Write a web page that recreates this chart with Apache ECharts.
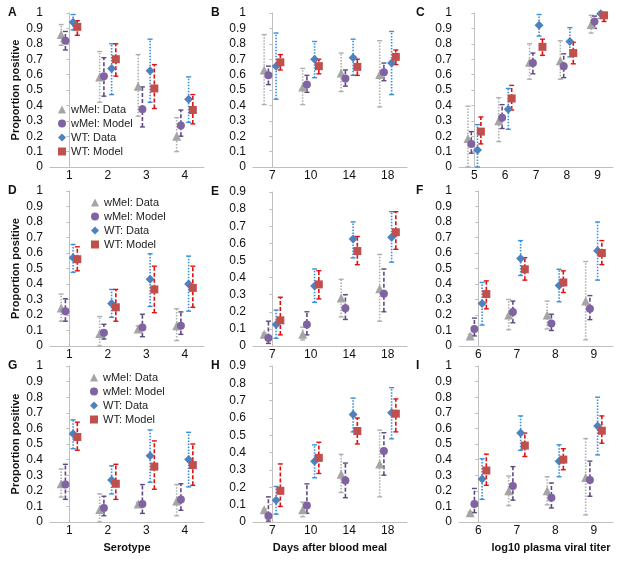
<!DOCTYPE html>
<html><head><meta charset="utf-8">
<script src="https://cdn.jsdelivr.net/npm/echarts@6/dist/echarts.min.js"></script>
<style>html,body{margin:0;padding:0;background:#fff}#c{width:622px;height:561px}</style>
</head><body><div id="c"></div>
<script>
// Series names (legend)
const seriesNames = ['wMel: Data', 'wMel: Model', 'WT: Data', 'WT: Model'];

// Category labels
const catsSerotype = ['1', '2', '3', '4'];
const catsDays = ['7', '10', '14', '18'];
const catsTiterC = ['5', '6', '7', '8', '9'];
const catsTiter = ['6', '7', '8', '9'];

// Each entry: [estimate, lower, upper]
const A_wMelData  = [[0.86,0.79,0.925],[0.585,0.42,0.75],[0.525,0.33,0.73],[0.20,0.10,0.32]];
const A_wMelModel = [[0.82,0.76,0.88],[0.59,0.46,0.71],[0.375,0.26,0.52],[0.27,0.20,0.37]];
const A_WTData    = [[0.94,0.89,0.99],[0.64,0.47,0.80],[0.625,0.42,0.83],[0.44,0.29,0.585]];
const A_WTModel   = [[0.91,0.855,0.95],[0.70,0.59,0.80],[0.51,0.38,0.665],[0.37,0.28,0.47]];

const B_wMelData  = [[0.63,0.405,0.86],[0.52,0.405,0.64],[0.61,0.49,0.74],[0.60,0.39,0.82]];
const B_wMelModel = [[0.595,0.535,0.655],[0.535,0.485,0.595],[0.575,0.525,0.63],[0.615,0.56,0.675]];
const B_WTData    = [[0.655,0.44,0.87],[0.70,0.58,0.815],[0.71,0.595,0.83],[0.675,0.47,0.88]];
const B_WTModel   = [[0.68,0.63,0.73],[0.655,0.605,0.70],[0.65,0.595,0.70],[0.715,0.665,0.76]];

const C_wMelData  = [[0.185,0,0.395],[0.30,0.165,0.45],[0.68,0.57,0.80],[0.69,0.57,0.82],[0.925,0.87,0.985]];
const C_wMelModel = [[0.15,0.09,0.23],[0.32,0.25,0.405],[0.675,0.605,0.74],[0.655,0.58,0.735],[0.945,0.90,0.98]];
const C_WTData    = [[0.11,0,0.275],[0.375,0.245,0.51],[0.92,0.85,0.99],[0.815,0.715,0.905],[0.995,0.965,1.0]];
const C_WTModel   = [[0.23,0.15,0.325],[0.445,0.37,0.53],[0.78,0.725,0.83],[0.74,0.67,0.81],[0.985,0.945,1.0]];

const D_wMelData  = [[0.245,0.16,0.335],[0.08,0,0.19],[0.11,0.10,0.13],[0.13,0.035,0.24]];
const D_wMelModel = [[0.225,0.16,0.305],[0.085,0.045,0.14],[0.12,0.06,0.205],[0.13,0.075,0.22]];
const D_WTData    = [[0.57,0.475,0.655],[0.275,0.185,0.365],[0.43,0.255,0.595],[0.40,0.225,0.58]];
const D_WTModel   = [[0.56,0.485,0.64],[0.25,0.16,0.365],[0.365,0.215,0.515],[0.375,0.25,0.515]];

const E_wMelData  = [[0.068,0.06,0.075],[0.068,0.035,0.11],[0.28,0.17,0.39],[0.335,0.145,0.535]];
const E_wMelModel = [[0.047,0.015,0.145],[0.125,0.065,0.20],[0.22,0.155,0.30],[0.305,0.20,0.45]];
const E_WTData    = [[0.125,0.045,0.21],[0.35,0.255,0.45],[0.625,0.515,0.725],[0.635,0.49,0.785]];
const E_WTModel   = [[0.15,0.065,0.285],[0.36,0.275,0.44],[0.555,0.475,0.64],[0.665,0.565,0.785]];

const F_wMelData  = [[0.065,0.06,0.075],[0.20,0.105,0.30],[0.20,0.11,0.29],[0.29,0.04,0.545]];
const F_wMelModel = [[0.11,0.065,0.18],[0.22,0.15,0.29],[0.145,0.10,0.205],[0.24,0.17,0.325]];
const F_WTData    = [[0.275,0.135,0.41],[0.565,0.455,0.68],[0.39,0.285,0.495],[0.615,0.425,0.80]];
const F_WTModel   = [[0.335,0.24,0.42],[0.495,0.425,0.57],[0.41,0.345,0.485],[0.60,0.525,0.68]];

const G_wMelData  = [[0.245,0.16,0.34],[0.08,0,0.18],[0.115,0.10,0.125],[0.135,0.04,0.24]];
const G_wMelModel = [[0.24,0.145,0.37],[0.09,0.04,0.165],[0.115,0.055,0.24],[0.145,0.075,0.245]];
const G_WTData    = [[0.565,0.47,0.655],[0.27,0.18,0.36],[0.425,0.255,0.59],[0.40,0.225,0.575]];
const G_WTModel   = [[0.545,0.46,0.64],[0.245,0.145,0.37],[0.355,0.21,0.52],[0.365,0.235,0.50]];

const H_wMelData  = [[0.07,0.065,0.075],[0.07,0.03,0.115],[0.275,0.17,0.39],[0.335,0.145,0.53]];
const H_wMelModel = [[0.035,0.005,0.145],[0.095,0.05,0.22],[0.24,0.14,0.34],[0.41,0.27,0.515]];
const H_WTData    = [[0.125,0.045,0.205],[0.35,0.255,0.445],[0.62,0.52,0.715],[0.63,0.48,0.775]];
const H_WTModel   = [[0.18,0.09,0.335],[0.37,0.28,0.46],[0.525,0.45,0.60],[0.625,0.52,0.71]];

const I_wMelData  = [[0.06,0.055,0.065],[0.20,0.105,0.295],[0.20,0.11,0.29],[0.285,0.045,0.535]];
const I_wMelModel = [[0.115,0.06,0.215],[0.23,0.14,0.355],[0.155,0.09,0.25],[0.27,0.165,0.39]];
const I_WTData    = [[0.275,0.145,0.405],[0.57,0.46,0.68],[0.39,0.29,0.495],[0.615,0.43,0.80]];
const I_WTModel   = [[0.33,0.235,0.435],[0.49,0.42,0.57],[0.40,0.335,0.47],[0.585,0.505,0.68]];

// Axis ranges
const yMaxFull = 1;
const yMaxShort = 0.9;

// Axis titles
const yTitle = 'Proportion positive';
const xTitles = ['Serotype', 'Days after blood meal', 'log10 plasma viral titer'];

// ---------- layout / style ----------
const FONT = '"Liberation Sans", Arial, sans-serif';
const panels = [
  {id:'A', cats:catsSerotype, max:yMaxFull, data:[A_wMelData,A_wMelModel,A_WTData,A_WTModel], left:50, top:13, h:154, col:0, row:0},
  {id:'B', cats:catsDays, max:yMaxFull, data:[B_wMelData,B_wMelModel,B_WTData,B_WTModel], left:253, top:13, h:154, col:1, row:0},
  {id:'C', cats:catsTiterC, max:yMaxFull, data:[C_wMelData,C_wMelModel,C_WTData,C_WTModel], left:459, top:13, h:154, col:2, row:0},
  {id:'D', cats:catsSerotype, max:yMaxFull, data:[D_wMelData,D_wMelModel,D_WTData,D_WTModel], left:50, top:191, h:155, col:0, row:1},
  {id:'E', cats:catsDays, max:yMaxShort, data:[E_wMelData,E_wMelModel,E_WTData,E_WTModel], left:253, top:192, h:154, col:1, row:1},
  {id:'F', cats:catsTiter, max:yMaxFull, data:[F_wMelData,F_wMelModel,F_WTData,F_WTModel], left:459, top:191, h:155, col:2, row:1},
  {id:'G', cats:catsSerotype, max:yMaxFull, data:[G_wMelData,G_wMelModel,G_WTData,G_WTModel], left:50, top:366, h:156, col:0, row:2},
  {id:'H', cats:catsDays, max:yMaxShort, data:[H_wMelData,H_wMelModel,H_WTData,H_WTModel], left:253, top:366, h:156, col:1, row:2},
  {id:'I', cats:catsTiter, max:yMaxFull, data:[I_wMelData,I_wMelModel,I_WTData,I_WTModel], left:459, top:366, h:156, col:2, row:2}
];
const W = 154;
const offsets = [-0.21, -0.1, 0.1, 0.21];
const markers = [
  {symbol:'triangle', size:9, color:'#a5a5a5'},
  {symbol:'circle', size:8, color:'#8064a2'},
  {symbol:'diamond', size:9, color:'#4f81bd'},
  {symbol:'rect', size:8, color:'#c0504d'}
];
const bars = [
  {color:'#b0b0b0', dash:[1.5,1.5]},
  {color:'#5f4a80', dash:[4,2]},
  {color:'#3a8fd9', dash:[1.5,1.5]},
  {color:'#e01010', dash:[4,2]}
];
const AXC = '#bfbfbf';

const grid = [], xAxis = [], yAxis = [], series = [], graphic = [];
panels.forEach((p, i) => {
  grid.push({left:p.left, top:p.top, width:W, height:p.h});
  const catAxis = {
    type:'category', gridIndex:i, data:p.cats, boundaryGap:true,
    axisLine:{lineStyle:{color:AXC}}, axisTick:{length:5, lineStyle:{color:AXC}},
    axisLabel:{color:'#111', fontSize:12, fontFamily:FONT, margin:3}
  };
  if (p.row === 2) {
    catAxis.name = xTitles[p.col];
    catAxis.nameLocation = 'middle';
    catAxis.nameGap = 20;
    catAxis.nameTextStyle = {fontWeight:'bold', fontSize:11, color:'#111', fontFamily:FONT,
      padding: p.col === 2 ? [0,0,0,30] : 0};
  }
  xAxis.push(catAxis);
  xAxis.push({type:'value', gridIndex:i, min:-0.5, max:p.cats.length-0.5, show:false});
  const ya = {
    type:'value', gridIndex:i, min:0, max:p.max, interval:0.1,
    axisLine:{show:true, lineStyle:{color:AXC}}, axisTick:{show:true, length:3, lineStyle:{color:AXC}},
    splitLine:{show:false},
    axisLabel:{color:'#111', fontSize:12, fontFamily:FONT, margin:7,
      formatter: v => String(Math.round(v*10)/10)}
  };
  if (p.col === 0) {
    ya.name = yTitle; ya.nameLocation = 'middle'; ya.nameGap = 29;
    ya.nameTextStyle = {fontWeight:'bold', fontSize:11, color:'#111', fontFamily:FONT};
  }
  yAxis.push(ya);
  p.data.forEach((arr, s) => {
    const pts = arr.map((d, k) => [k + offsets[s], d[0], d[1], d[2]]);
    const b = bars[s];
    series.push({
      type:'custom', name:'err'+s, xAxisIndex:2*i+1, yAxisIndex:i, z:2, silent:true,
      data: pts.map(q => [q[0], q[2], q[3]]),
      encode:{x:0, y:[1,2]},
      renderItem:(params, api) => {
        const x = api.value(0);
        const lo = api.coord([x, api.value(1)]);
        const hi = api.coord([x, api.value(2)]);
        const cap = 2.5;
        return {type:'group', children:[
          {type:'line', shape:{x1:lo[0], y1:lo[1], x2:hi[0], y2:hi[1]}, style:{stroke:b.color, lineWidth:1.6, lineDash:b.dash}},
          {type:'line', shape:{x1:hi[0]-cap, y1:hi[1], x2:hi[0]+cap, y2:hi[1]}, style:{stroke:b.color, lineWidth:1.4}},
          {type:'line', shape:{x1:lo[0]-cap, y1:lo[1], x2:lo[0]+cap, y2:lo[1]}, style:{stroke:b.color, lineWidth:1.4}}
        ]};
      }
    });
    const m = markers[s];
    series.push({
      type:'scatter', name:seriesNames[s], xAxisIndex:2*i+1, yAxisIndex:i, z:3,
      symbol:m.symbol, symbolSize:m.size, itemStyle:{color:m.color, opacity:1},
      data: pts.map(q => [q[0], q[1]])
    });
  });
  graphic.push({type:'text', left:p.col === 0 ? 8 : (p.col === 1 ? 211 : 416), top:p.top - 6,
    style:{text:p.id, font:'bold 12px ' + FONT, fill:'#111'}});
});

const legendBase = {
  data:seriesNames, orient:'vertical', itemWidth:8, itemHeight:8, itemGap:3, selectedMode:false,
  textStyle:{fontSize:11, fontFamily:FONT, color:'#222'}, padding:0
};
const legend = [
  Object.assign({}, legendBase, {left:58, top:104}),
  Object.assign({}, legendBase, {left:91, top:197}),
  Object.assign({}, legendBase, {left:90, top:372})
];

const chart = echarts.init(document.getElementById('c'), null, {renderer:'canvas'});
chart.setOption({
  animation:false, backgroundColor:'#fff',
  grid, xAxis, yAxis, series, legend, graphic
});
</script></body></html>
